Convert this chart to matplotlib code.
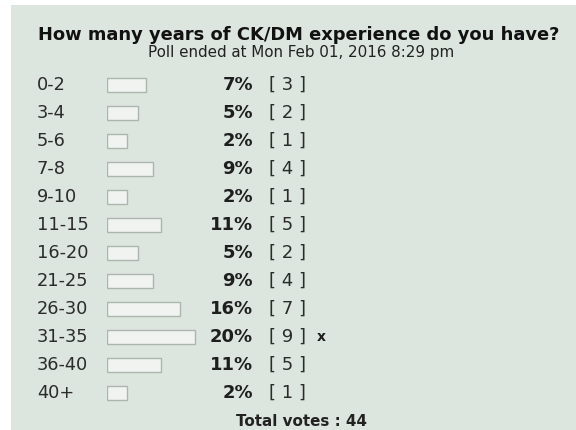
import matplotlib
matplotlib.use("Agg")
import matplotlib.pyplot as plt
import matplotlib.transforms as mtransforms
from matplotlib.patches import Rectangle

# ---- data ----
categories = ["0-2", "3-4", "5-6", "7-8", "9-10", "11-15", "16-20", "21-25",
              "26-30", "31-35", "36-40", "40+"]
percents = [7, 5, 2, 9, 2, 11, 5, 9, 16, 20, 11, 2]
votes = [3, 2, 1, 4, 1, 5, 2, 4, 7, 9, 5, 1]
voted_marker = "31-35"
title = "How many years of CK/DM experience do you have?"
subtitle = "Poll ended at Mon Feb 01, 2016 8:29 pm"
total_votes = 44

W, H = 576, 430
fig = plt.figure(figsize=(W / 100, H / 100), dpi=100)
fig.patch.set_facecolor("white")

# panel background
bg = Rectangle((11 / W, 0), 1 - 11 / W, 1 - 5 / H, transform=fig.transFigure,
               facecolor="#dce5de", edgecolor="none", zorder=-10)
fig.patches.append(bg)

# bar axes
row_h = 28
top_px = 71
n = len(categories)
bar_left_px = 107
px_per_unit = 3.78
cap = 3.3  # end caps of the bar image (in % units)
ax = fig.add_axes([bar_left_px / W, (H - (top_px + n * row_h)) / H,
                   (W - bar_left_px) / W, n * row_h / H], zorder=1)
ax.set_xlim(0, (W - bar_left_px) / px_per_unit)
ax.set_ylim(n - 0.5, -0.5)
ax.axis("off")
ax.patch.set_alpha(0)

ypos = list(range(n))
ax.barh(ypos, [p + cap for p in percents], height=0.5, left=0,
        color="#f1f3f0", edgecolor="#adb6ae", linewidth=1.0)

tr = mtransforms.blended_transform_factory(fig.transFigure, ax.transData)
txt_col = "#2b2b2b"
for i, (c, p, v) in enumerate(zip(categories, percents, votes)):
    ax.text(37 / W, i, c, transform=tr, ha="left", va="center",
            fontsize=12.8, color=txt_col)
    ax.text(253 / W, i, f"{p}%", transform=tr, ha="right", va="center",
            fontsize=13, fontweight="bold", color="#1e1e1e")
    ax.text(269 / W, i, f"[ {v} ]", transform=tr, ha="left", va="center",
            fontsize=13, color=txt_col)
    if c == voted_marker:
        ax.text(321 / W, i, "x", transform=tr, ha="center", va="center",
                fontsize=10, fontweight="bold", color="#1e1e1e")

fig.text(299 / W, 1 - 35 / H, title, ha="center", va="center",
         fontsize=12.9, fontweight="bold", color="#111111")
fig.text(301 / W, 1 - 53 / H, subtitle, ha="center", va="center",
         fontsize=10.9, color="#222222")
fig.text(301 / W, 1 - 422 / H, f"Total votes : {total_votes}", ha="center",
         va="center", fontsize=10.9, fontweight="bold", color="#222222")

fig.savefig("out.png", dpi=100, facecolor=fig.get_facecolor())
